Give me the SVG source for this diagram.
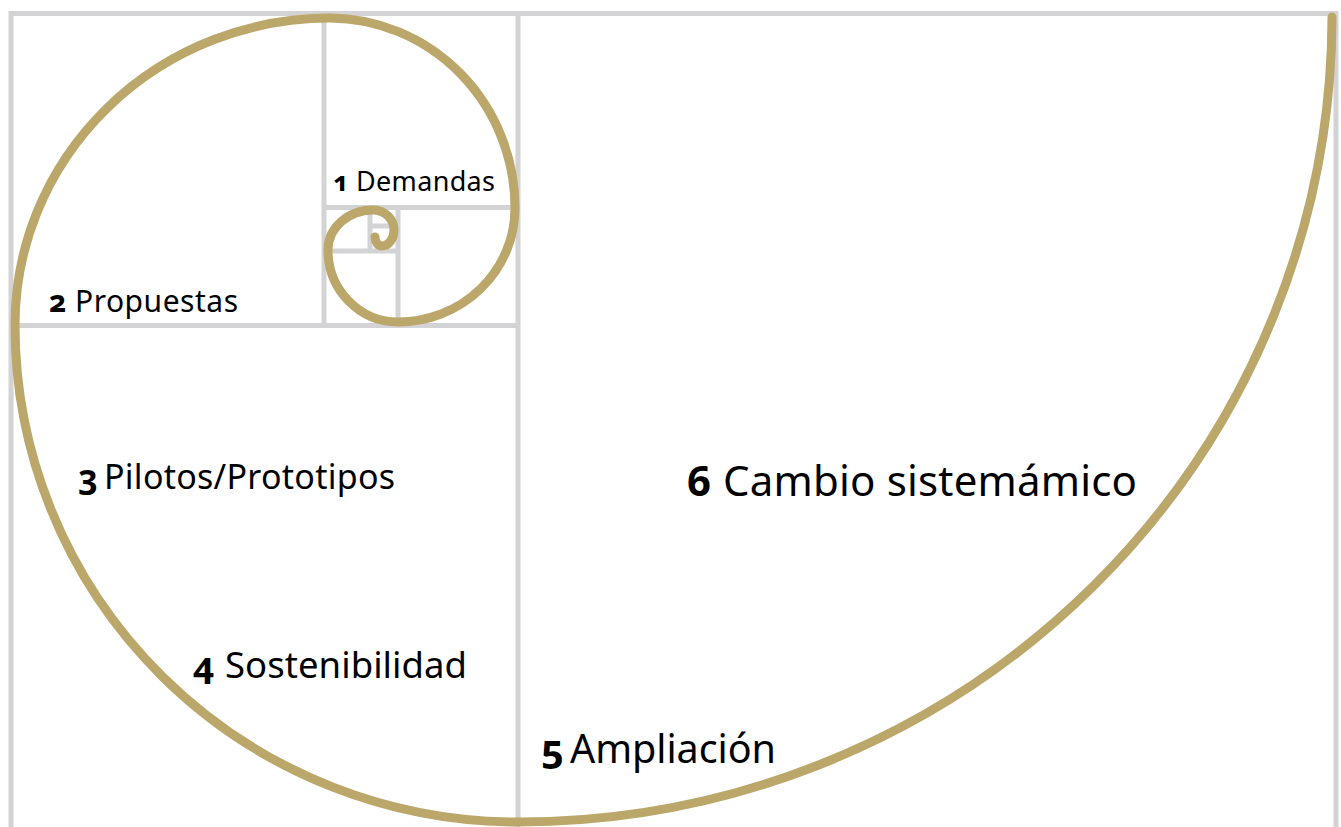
<svg xmlns="http://www.w3.org/2000/svg" width="1341" height="827" viewBox="0 0 1341 827">
<style>
.grid{stroke:#d3d3d5;stroke-width:5;fill:none;stroke-linecap:butt}
.spiral{stroke:#bba76a;stroke-width:9;fill:none;stroke-linecap:round;stroke-linejoin:round}
.num{font-family:"Noto Sans","Open Sans",sans-serif;font-weight:700;fill:#000;font-variant-numeric:oldstyle-nums;font-feature-settings:"onum" 1}
.lbl{font-family:"Noto Sans","Open Sans",sans-serif;font-weight:400;fill:#000}
</style>
<rect width="1341" height="827" fill="#fff"/>
<g id="grid">
<path class="grid" d="M11 830 V13.5 H1336 V830"/>
<path class="grid" d="M518 13.5 V830"/>
<path class="grid" d="M11 325.5 H518"/>
<path class="grid" d="M324 13.5 V325.5"/>
<path class="grid" d="M324 207.5 H518"/>
<path class="grid" d="M398 207.5 V325.5"/>
<path class="grid" d="M324 251 H398"/>
<path class="grid" d="M370 207.5 V251"/>
<path class="grid" d="M370 226 H398"/>
</g>
<g id="connectors">
<path id="spiral" class="spiral" d="M1332 17 A814 806 0 0 1 518 822 A503 497 0 0 1 15 325 A315 307 0 0 1 330 18 A186 190 0 0 1 515 208 A117 114 0 0 1 398 322 A70 72 0 0 1 328 250 A45 40 0 0 1 373 210 A21 20 0 0 1 394 230 A12 16 0 0 1 382 246 A7 9 0 0 1 375 237"/>
</g>
<g id="node1">
<text class="num" x="333" y="191" font-size="27">1</text>
<text class="lbl" x="356" y="191" font-size="27" textLength="139">Demandas</text>
</g>
<g id="node2">
<text class="num" x="49" y="312" font-size="30">2</text>
<text class="lbl" x="75" y="312" font-size="30" textLength="163">Propuestas</text>
</g>
<g id="node3">
<text class="num" x="78" y="489" font-size="34">3</text>
<text class="lbl" x="104" y="489" font-size="34" textLength="291">Pilotos/Prototipos</text>
</g>
<g id="node4">
<text class="num" x="193" y="678" font-size="36.5">4</text>
<text class="lbl" x="225" y="678" font-size="36.5" textLength="242">Sostenibilidad</text>
</g>
<g id="node5">
<text class="num" x="541" y="763" font-size="39.5">5</text>
<text class="lbl" x="570" y="763" font-size="39.5" textLength="206">Ampliación</text>
</g>
<g id="node6">
<text class="num" x="687" y="496" font-size="42">6</text>
<text class="lbl" x="723" y="496" font-size="42" textLength="414">Cambio sistemámico</text>
</g>
</svg>
